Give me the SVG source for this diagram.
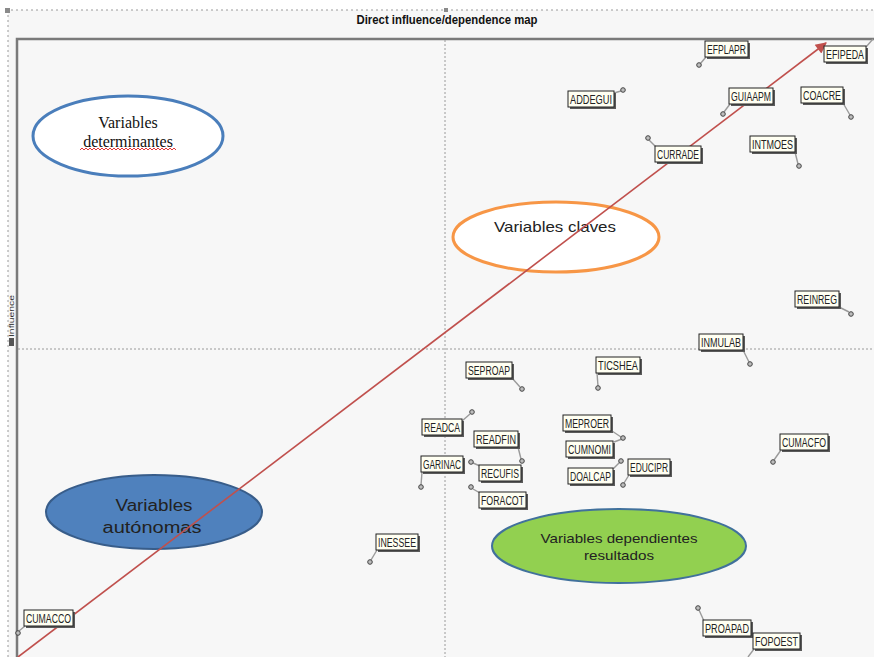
<svg xmlns="http://www.w3.org/2000/svg" width="874" height="657" viewBox="0 0 874 657">
  <defs>
    <style>
      .frame { stroke: #7a7a7a; stroke-width: 2.5; fill: none; }
      .guide { stroke: #9a9a9a; stroke-width: 1; stroke-dasharray: 2 2; fill: none; }
      .outer { stroke: #9a9a9a; stroke-width: 1; stroke-dasharray: 2 3; fill: none; }
      .shadow { fill: #5a5a5a; }
      .box { fill: #fffff2; stroke: #222; stroke-width: 1; }
      .lbl { font-family: "Liberation Sans Narrow", "Liberation Sans", Arial, sans-serif; font-size: 12.5px; fill: #222; text-anchor: middle; }
      .leader { stroke: #9a9a9a; stroke-width: 1.4; fill: none; }
      .pt { fill: #bdbdbd; stroke: #444; stroke-width: 1; }
      .title { font-family: "Liberation Sans Narrow", "Liberation Sans", Arial, sans-serif; font-size: 13.5px; font-weight: bold; fill: #111; text-anchor: middle; }
      .serif { font-family: "Liberation Serif", "Times New Roman", serif; font-size: 16px; fill: #111; text-anchor: middle; }
      .sans { font-family: "Liberation Sans", Arial, sans-serif; fill: #222; text-anchor: middle; }
    </style>
    <marker id="arrowHead" viewBox="0 0 10 10" refX="9" refY="5" markerWidth="9" markerHeight="7" orient="auto" markerUnits="strokeWidth">
      <path d="M0,0 L10,5 L0,10 z" fill="#c0504d"/>
    </marker>
  </defs>

  <!-- canvas -->
  <rect x="0" y="0" width="874" height="657" fill="#ffffff"/>
  <rect x="8" y="10" width="866" height="647" fill="#f7f7f7"/>
  <path class="outer" d="M8,657 V10 H874"/>
  <rect x="5" y="8" width="5" height="5" fill="#8a8a8a"/>
  <rect x="444" y="8" width="4" height="4" fill="#8a8a8a"/>

  <!-- title -->
  <text class="title" x="447" y="24" textLength="181" lengthAdjust="spacingAndGlyphs">Direct influence/dependence map</text>

  <!-- plot frame and quadrant guides -->
  <path class="frame" d="M17,657 V39 H874"/>
  <line class="guide" x1="445" y1="40" x2="445" y2="657"/>
  <line class="guide" x1="18" y1="349" x2="874" y2="349"/>

  <!-- axis label -->
  <rect x="9" y="338" width="5" height="8" fill="#555"/>
  <text x="14" y="337" transform="rotate(-90 14 337)" font-family="Liberation Sans, Arial, sans-serif" font-size="7" fill="#333" textLength="42" lengthAdjust="spacingAndGlyphs">Influence</text>

  <!-- quadrant ellipses -->
  <g id="determinantes">
    <ellipse cx="128" cy="136" rx="95" ry="40" fill="#ffffff" stroke="#4a7ebb" stroke-width="3"/>
    <text class="serif" x="128" y="128">Variables</text>
    <text class="serif" x="128" y="147">determinantes</text>
    <path d="M80,150 l2,-2 l2,2 l2,-2 l2,2 l2,-2 l2,2 l2,-2 l2,2 l2,-2 l2,2 l2,-2 l2,2 l2,-2 l2,2 l2,-2 l2,2 l2,-2 l2,2 l2,-2 l2,2 l2,-2 l2,2 l2,-2 l2,2 l2,-2 l2,2 l2,-2 l2,2 l2,-2 l2,2 l2,-2 l2,2 l2,-2 l2,2 l2,-2 l2,2 l2,-2 l2,2 l2,-2 l2,2 l2,-2 l2,2 l2,-2 l2,2 l2,-2 l2,2 l2,-2 l2,2" fill="none" stroke="#e02020" stroke-width="0.9"/>
  </g>

  <g id="claves">
    <ellipse cx="556" cy="237" rx="103" ry="35" fill="#ffffff" stroke="#f79646" stroke-width="3"/>
    <text class="sans" x="555" y="232" font-size="15" fill="#333" textLength="122" lengthAdjust="spacingAndGlyphs">Variables claves</text>
  </g>

  <g id="autonomas">
    <ellipse cx="154" cy="512" rx="108" ry="37" fill="#4f81bd" stroke="#385d8a" stroke-width="2"/>
    <text class="sans" x="154" y="511" font-size="16" fill="#111" textLength="77" lengthAdjust="spacingAndGlyphs">Variables</text>
    <text class="sans" x="152" y="533" font-size="16" fill="#111" textLength="99" lengthAdjust="spacingAndGlyphs">autónomas</text>
  </g>

  <g id="dependientes">
    <ellipse cx="619" cy="546" rx="127" ry="37" fill="#92d050" stroke="#41719c" stroke-width="2"/>
    <text class="sans" x="619" y="543" font-size="13" fill="#111" textLength="157" lengthAdjust="spacingAndGlyphs">Variables dependientes</text>
    <text class="sans" x="619" y="560" font-size="13" fill="#111" textLength="70" lengthAdjust="spacingAndGlyphs">resultados</text>
  </g>

  <!-- connectors: diagonal trend arrow and label leaders -->
  <g id="connectors">
    <line x1="18" y1="657" x2="826" y2="43" stroke="#c0504d" stroke-width="1.6" marker-end="url(#arrowHead)"/>
    <g class="leader-lines">
      <line class="leader" x1="706" y1="57" x2="700" y2="64"/>
      <line class="leader" x1="866" y1="47" x2="873" y2="39"/>
      <line class="leader" x1="614" y1="93" x2="621" y2="91"/>
      <line class="leader" x1="730" y1="104" x2="724" y2="112"/>
      <line class="leader" x1="843" y1="103" x2="850" y2="115"/>
      <line class="leader" x1="656" y1="147" x2="649" y2="140"/>
      <line class="leader" x1="795" y1="152" x2="798" y2="164"/>
      <line class="leader" x1="839" y1="307" x2="849" y2="312"/>
      <line class="leader" x1="743" y1="350" x2="749" y2="362"/>
      <line class="leader" x1="512" y1="378" x2="520" y2="387"/>
      <line class="leader" x1="597" y1="373" x2="598" y2="386"/>
      <line class="leader" x1="462" y1="421" x2="470" y2="414"/>
      <line class="leader" x1="518" y1="447" x2="521" y2="459"/>
      <line class="leader" x1="422" y1="472" x2="421" y2="485"/>
      <line class="leader" x1="480" y1="466" x2="473" y2="463"/>
      <line class="leader" x1="480" y1="493" x2="473" y2="489"/>
      <line class="leader" x1="612" y1="431" x2="621" y2="437"/>
      <line class="leader" x1="614" y1="442" x2="622" y2="439"/>
      <line class="leader" x1="613" y1="469" x2="620" y2="462"/>
      <line class="leader" x1="629" y1="475" x2="624" y2="483"/>
      <line class="leader" x1="781" y1="450" x2="774" y2="460"/>
      <line class="leader" x1="377" y1="550" x2="371" y2="560"/>
      <line class="leader" x1="25" y1="626" x2="19" y2="631"/>
      <line class="leader" x1="704" y1="621" x2="699" y2="610"/>
      <line class="leader" x1="754" y1="649" x2="748" y2="657"/>
    </g>
    <g class="points">
      <circle class="pt" cx="699" cy="65" r="2.3"/>
      <circle class="pt" cx="623" cy="90" r="2.3"/>
      <circle class="pt" cx="723" cy="114" r="2.3"/>
      <circle class="pt" cx="851" cy="117" r="2.3"/>
      <circle class="pt" cx="648" cy="138" r="2.3"/>
      <circle class="pt" cx="799" cy="166" r="2.3"/>
      <circle class="pt" cx="851" cy="314" r="2.3"/>
      <circle class="pt" cx="750" cy="364" r="2.3"/>
      <circle class="pt" cx="522" cy="389" r="2.3"/>
      <circle class="pt" cx="598" cy="388" r="2.3"/>
      <circle class="pt" cx="472" cy="412" r="2.3"/>
      <circle class="pt" cx="522" cy="461" r="2.3"/>
      <circle class="pt" cx="421" cy="487" r="2.3"/>
      <circle class="pt" cx="471" cy="462" r="2.3"/>
      <circle class="pt" cx="471" cy="487" r="2.3"/>
      <circle class="pt" cx="623" cy="438" r="2.3"/>
      <circle class="pt" cx="621" cy="461" r="2.3"/>
      <circle class="pt" cx="623" cy="485" r="2.3"/>
      <circle class="pt" cx="773" cy="462" r="2.3"/>
      <circle class="pt" cx="370" cy="562" r="2.3"/>
      <circle class="pt" cx="18" cy="633" r="2.3"/>
      <circle class="pt" cx="698" cy="608" r="2.3"/>
    </g>
  </g>

  <!-- variable labels -->
  <g id="EFPLAPR"><rect class="shadow" x="707" y="43" width="43" height="16"/><rect class="box" x="705" y="41" width="43" height="16"/><text class="lbl" x="726.5" y="53.5" textLength="39" lengthAdjust="spacingAndGlyphs">EFPLAPR</text></g>
  <g id="EFIPEDA"><rect class="shadow" x="826" y="48" width="42" height="16"/><rect class="box" x="824" y="46" width="42" height="16"/><text class="lbl" x="845" y="58.5" textLength="38" lengthAdjust="spacingAndGlyphs">EFIPEDA</text></g>
  <g id="ADDEGUI"><rect class="shadow" x="570" y="93" width="46" height="16"/><rect class="box" x="568" y="91" width="46" height="16"/><text class="lbl" x="591" y="103.5" textLength="42" lengthAdjust="spacingAndGlyphs">ADDEGUI</text></g>
  <g id="GUIAAPM"><rect class="shadow" x="731" y="90" width="44" height="16"/><rect class="box" x="729" y="88" width="44" height="16"/><text class="lbl" x="751" y="100.5" textLength="40" lengthAdjust="spacingAndGlyphs">GUIAAPM</text></g>
  <g id="COACRE"><rect class="shadow" x="803" y="89" width="42" height="16"/><rect class="box" x="801" y="87" width="42" height="16"/><text class="lbl" x="822" y="99.5" textLength="38" lengthAdjust="spacingAndGlyphs">COACRE</text></g>
  <g id="CURRADE"><rect class="shadow" x="657" y="148" width="46" height="16"/><rect class="box" x="655" y="146" width="46" height="16"/><text class="lbl" x="678" y="158.5" textLength="42" lengthAdjust="spacingAndGlyphs">CURRADE</text></g>
  <g id="INTMOES"><rect class="shadow" x="752" y="138" width="45" height="16"/><rect class="box" x="750" y="136" width="45" height="16"/><text class="lbl" x="772.5" y="148.5" textLength="41" lengthAdjust="spacingAndGlyphs">INTMOES</text></g>
  <g id="REINREG"><rect class="shadow" x="797" y="293" width="44" height="16"/><rect class="box" x="795" y="291" width="44" height="16"/><text class="lbl" x="817" y="303.5" textLength="40" lengthAdjust="spacingAndGlyphs">REINREG</text></g>
  <g id="INMULAB"><rect class="shadow" x="701" y="336" width="44" height="16"/><rect class="box" x="699" y="334" width="44" height="16"/><text class="lbl" x="721" y="346.5" textLength="40" lengthAdjust="spacingAndGlyphs">INMULAB</text></g>
  <g id="SEPROAP"><rect class="shadow" x="468" y="364" width="46" height="16"/><rect class="box" x="466" y="362" width="46" height="16"/><text class="lbl" x="489" y="374.5" textLength="42" lengthAdjust="spacingAndGlyphs">SEPROAP</text></g>
  <g id="TICSHEA"><rect class="shadow" x="598" y="359" width="44" height="16"/><rect class="box" x="596" y="357" width="44" height="16"/><text class="lbl" x="618" y="369.5" textLength="40" lengthAdjust="spacingAndGlyphs">TICSHEA</text></g>
  <g id="READCA"><rect class="shadow" x="424" y="421" width="40" height="16"/><rect class="box" x="422" y="419" width="40" height="16"/><text class="lbl" x="442" y="431.5" textLength="36" lengthAdjust="spacingAndGlyphs">READCA</text></g>
  <g id="READFIN"><rect class="shadow" x="476" y="433" width="44" height="16"/><rect class="box" x="474" y="431" width="44" height="16"/><text class="lbl" x="496" y="443.5" textLength="40" lengthAdjust="spacingAndGlyphs">READFIN</text></g>
  <g id="GARINAC"><rect class="shadow" x="423" y="458" width="42" height="16"/><rect class="box" x="421" y="456" width="42" height="16"/><text class="lbl" x="442" y="468.5" textLength="38" lengthAdjust="spacingAndGlyphs">GARINAC</text></g>
  <g id="RECUFIS"><rect class="shadow" x="481" y="467" width="42" height="16"/><rect class="box" x="479" y="465" width="42" height="16"/><text class="lbl" x="500" y="477.5" textLength="38" lengthAdjust="spacingAndGlyphs">RECUFIS</text></g>
  <g id="FORACOT"><rect class="shadow" x="481" y="494" width="47" height="16"/><rect class="box" x="479" y="492" width="47" height="16"/><text class="lbl" x="502.5" y="504.5" textLength="43" lengthAdjust="spacingAndGlyphs">FORACOT</text></g>
  <g id="MEPROER"><rect class="shadow" x="565" y="417" width="48" height="16"/><rect class="box" x="563" y="415" width="48" height="16"/><text class="lbl" x="587" y="427.5" textLength="44" lengthAdjust="spacingAndGlyphs">MEPROER</text></g>
  <g id="CUMNOMI"><rect class="shadow" x="568" y="443" width="47" height="16"/><rect class="box" x="566" y="441" width="47" height="16"/><text class="lbl" x="589.5" y="453.5" textLength="43" lengthAdjust="spacingAndGlyphs">CUMNOMI</text></g>
  <g id="DOALCAP"><rect class="shadow" x="570" y="470" width="45" height="16"/><rect class="box" x="568" y="468" width="45" height="16"/><text class="lbl" x="590.5" y="480.5" textLength="41" lengthAdjust="spacingAndGlyphs">DOALCAP</text></g>
  <g id="EDUCIPR"><rect class="shadow" x="630" y="461" width="42" height="16"/><rect class="box" x="628" y="459" width="42" height="16"/><text class="lbl" x="649" y="471.5" textLength="38" lengthAdjust="spacingAndGlyphs">EDUCIPR</text></g>
  <g id="CUMACFO"><rect class="shadow" x="782" y="436" width="48" height="16"/><rect class="box" x="780" y="434" width="48" height="16"/><text class="lbl" x="804" y="446.5" textLength="44" lengthAdjust="spacingAndGlyphs">CUMACFO</text></g>
  <g id="INESSEE"><rect class="shadow" x="378" y="536" width="42" height="16"/><rect class="box" x="376" y="534" width="42" height="16"/><text class="lbl" x="397" y="546.5" textLength="38" lengthAdjust="spacingAndGlyphs">INESSEE</text></g>
  <g id="CUMACCO"><rect class="shadow" x="26" y="612" width="49" height="16"/><rect class="box" x="24" y="610" width="49" height="16"/><text class="lbl" x="48.5" y="622.5" textLength="45" lengthAdjust="spacingAndGlyphs">CUMACCO</text></g>
  <g id="PROAPAD"><rect class="shadow" x="705" y="622" width="48" height="16"/><rect class="box" x="703" y="620" width="48" height="16"/><text class="lbl" x="727" y="632.5" textLength="44" lengthAdjust="spacingAndGlyphs">PROAPAD</text></g>
  <g id="FOPOEST"><rect class="shadow" x="755" y="635" width="47" height="16"/><rect class="box" x="753" y="633" width="47" height="16"/><text class="lbl" x="776.5" y="645.5" textLength="43" lengthAdjust="spacingAndGlyphs">FOPOEST</text></g>
</svg>
